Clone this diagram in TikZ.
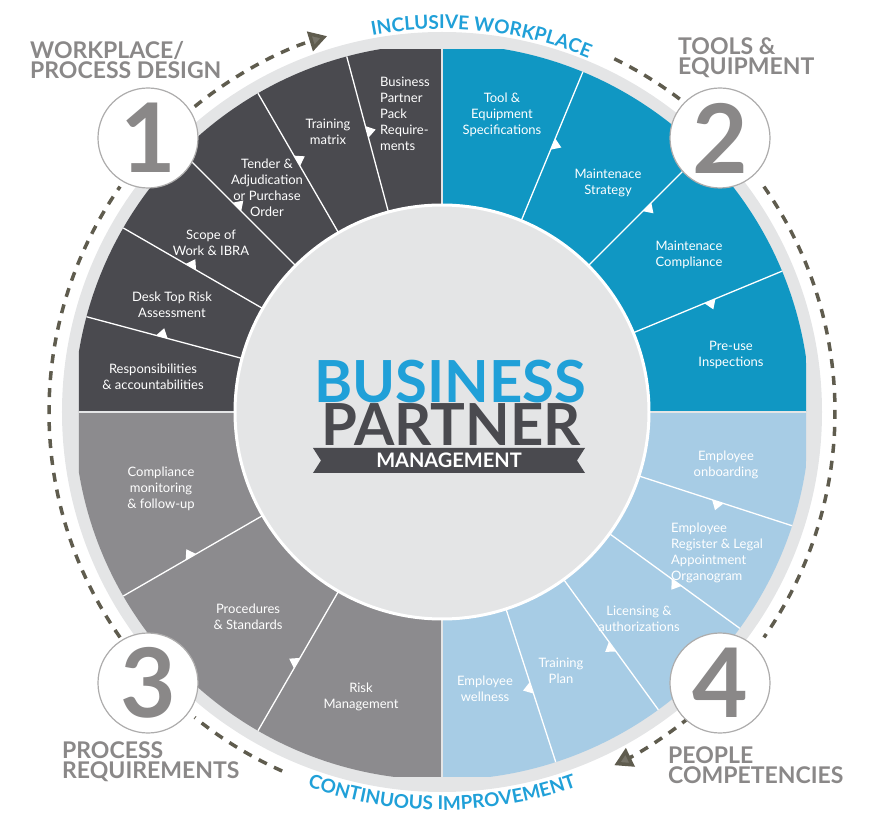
\documentclass[tikz,border=0pt]{standalone}
\usepackage{fontspec}
\setmainfont{Lato}
\usetikzlibrary{arrows.meta,decorations.text,calc}
\definecolor{darkseg}{HTML}{4A4A4F}
\definecolor{blueseg}{HTML}{1097C3}
\definecolor{lightseg}{HTML}{A7CCE5}
\definecolor{grayseg}{HTML}{8C8B8E}
\definecolor{ringgray}{HTML}{E4E5E6}
\definecolor{numgray}{HTML}{8A8888}
\definecolor{dashcol}{HTML}{5F5C4E}
\definecolor{titleblue}{HTML}{20A0D8}
\tikzset{
  seglabel/.style={text=white,font=\fontsize{13}{16}\selectfont,align=center},
  numcircle/.style={circle,draw=numgray!70,line width=1.2pt,fill=white,minimum size=100pt,
    font=\fontsize{96}{96}\selectfont\bfseries,text=numgray,inner sep=0pt},
  cornerlabel/.style={text=numgray,font=\fontsize{23}{20}\selectfont\bfseries,align=left,anchor=west,inner sep=0pt},
  divider/.style={white,line width=1.3pt},
  flowdash/.style={dashcol,line width=3.5pt,dash pattern=on 9pt off 8pt},
  flowtip/.style={-{Triangle[length=18pt,width=20pt,fill=dashcol!85!white]}},
  arctext/.style={decorate,decoration={text along path,text align=center,
    text={|\fontsize{19}{19}\selectfont\bfseries\color{titleblue}|#1}}}
}
\newcommand{\notch}[2]{\fill[white] ($(#1:#2-6)$) -- ($(#1:#2+6)$) -- ($(#1:#2)+(#1-90:9)$) -- cycle;}
\begin{document}
\begin{tikzpicture}[x=1pt,y=1pt]
\useasboundingbox (-442,-417) rectangle (446,412);
% outer ring
\fill[ringgray] (0,0) circle (380);
% quadrants
\begin{scope}
  \clip (0,0) circle (368);
  \clip (-363,-364) rectangle (364,362);
  \fill[darkseg] (-400,0) rectangle (0,400);
  \fill[blueseg] (0,0) rectangle (400,400);
  \fill[lightseg] (0,0) rectangle (400,-400);
  \fill[grayseg] (-400,0) rectangle (0,-400);
  \foreach \a in {105,120,...,165} {\draw[divider] (\a:200) -- (\a:400); \notch{\a}{290}}
  \foreach \a in {22.5,45,67.5} {\draw[divider] (\a:200) -- (\a:400); \notch{\a}{290}}
  \foreach \a in {-18,-36,-54,-72} {\draw[divider] (\a:200) -- (\a:400); \notch{\a}{290}}
  \foreach \a in {210,240} {\draw[divider] (\a:200) -- (\a:400); \notch{\a}{290}}
  \foreach \a in {0,90,180,270} {\draw[ringgray,line width=2pt] (0,0) -- (\a:400);}
\end{scope}
\fill[ringgray,draw=white,line width=3pt] (0,0) circle (207);
% segment labels
\node[seglabel,align=left] (bppr) at (-37,298) {Business\\Partner\\Pack\\Require-\\ments};
\node[seglabel] (trmat) at (-114,280) {Training\\matrix};
\node[seglabel] (tender) at (-175,224) {Tender \&\\Adjudication\\or Purchase\\Order};
\node[seglabel] (scope) at (-231,169) {Scope of\\Work \& IBRA};
\node[seglabel] (desk) at (-270,107) {Desk Top Risk\\Assessment};
\node[seglabel] (resp) at (-289,35) {Responsibilities\\\& accountabilities};
\node[seglabel] (tool) at (60,297) {Tool \&\\Equipment\\Specifications};
\node[seglabel] (mstrat) at (166,229) {Maintenace\\Strategy};
\node[seglabel] (mcomp) at (247,157) {Maintenace\\Compliance};
\node[seglabel] (preuse) at (289,57) {Pre-use\\Inspections};
\node[seglabel] (onboard) at (284,-53) {Employee\\onboarding};
\node[seglabel,align=left] (register) at (275,-141) {Employee\\Register \& Legal\\Appointment\\Organogram};
\node[seglabel] (licence) at (197,-207) {Licensing \&\\authorizations};
\node[seglabel] (trplan) at (119,-259) {Training\\Plan};
\node[seglabel] (wellness) at (43,-277) {Employee\\wellness};
\node[seglabel] (compmon) at (-281,-77) {Compliance\\monitoring\\\& follow-up};
\node[seglabel] (proc) at (-194,-205) {Procedures\\\& Standards};
\node[seglabel] (risk) at (-81,-285) {Risk\\Management};
% centre title
\node[text=titleblue,font=\fontsize{58}{58}\selectfont\bfseries,inner sep=0pt] (business) at (8,30) {BUSINESS};
\node[text=darkseg,font=\fontsize{58}{58}\selectfont\bfseries,inner sep=0pt] (partner) at (9,-13) {PARTNER};
\fill[darkseg] (-129,-36) -- (143,-36) -- (135,-48.5) -- (143,-61) -- (-129,-61) -- (-121,-48.5) -- cycle;
\node[text=white,font=\fontsize{20}{20}\selectfont\bfseries,inner sep=0pt] (mgmt) at (7,-48.5) {MANAGEMENT};
% flow around the ring
\draw[flowdash,flowtip] (129:393) arc[start angle=129,end angle=107,radius=393];
\draw[flowdash] (64:393) arc[start angle=64,end angle=51,radius=393];
\draw[flowdash] (35:393) arc[start angle=35,end angle=-35,radius=393];
\draw[flowdash,flowtip] (-51:393) arc[start angle=-51,end angle=-64,radius=393];
\draw[flowdash] (-114:393) arc[start angle=-114,end angle=-129,radius=393];
\draw[flowdash] (-145:393) arc[start angle=-145,end angle=-215,radius=393];
\path[arctext={INCLUSIVE WORKPLACE}] (104:383) arc[start angle=104,end angle=64,radius=383];
\path[arctext={CONTINUOUS IMPROVEMENT}] (-114:398) arc[start angle=-114,end angle=-66,radius=398];
% numbered stages
\node[numcircle] (one) at (-294,274) {1};
\node[numcircle] (two) at (278,274) {2};
\node[numcircle] (three) at (-294,-271) {3};
\node[numcircle] (four) at (278,-271) {4};
\node[cornerlabel] (design) at (-412,352) {WORKPLACE/\\PROCESS DESIGN};
\node[cornerlabel] (tools) at (236,354) {TOOLS \&\\EQUIPMENT};
\node[cornerlabel] (procreq) at (-380,-350) {PROCESS\\REQUIREMENTS};
\node[cornerlabel] (people) at (226,-353) {PEOPLE\\COMPETENCIES};
\end{tikzpicture}
\end{document}
